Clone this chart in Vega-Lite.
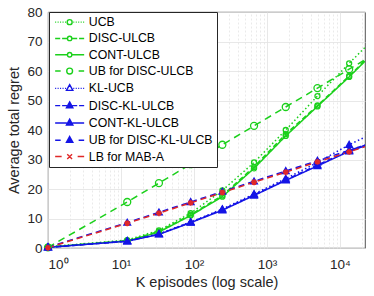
{
  "$schema": "https://vega.github.io/schema/vega-lite/v6.json",
  "width": 317,
  "height": 236,
  "autosize": {"type": "none"},
  "padding": {"left": 48, "top": 12, "right": 9, "bottom": 48},
  "config": {
    "font": "Liberation Sans",
    "view": {"stroke": "#262626", "strokeWidth": 0.8},
    "axis": {"labelFont": "Liberation Sans", "titleFont": "Liberation Sans", "labelColor": "#262626", "titleColor": "#262626", "titleFontWeight": "normal", "domain": false, "ticks": false, "gridColor": "#e2e2e2", "gridWidth": 0.8}
  },
  "datasets": {
    "d": [
      {"series": "UCB", "K": 1, "regret": 0.4}, {"series": "UCB", "K": 12.18, "regret": 2.7}, {"series": "UCB", "K": 33.12, "regret": 6.0}, {"series": "UCB", "K": 90.02, "regret": 11.8}, {"series": "UCB", "K": 244.7, "regret": 19.5}, {"series": "UCB", "K": 665.1, "regret": 29.0}, {"series": "UCB", "K": 1808, "regret": 40.0}, {"series": "UCB", "K": 4915, "regret": 51.5}, {"series": "UCB", "K": 13360, "regret": 62.6}, {"series": "UCB", "K": 22026, "regret": 68.0},
      {"series": "DISC-ULCB", "K": 1, "regret": 0.3}, {"series": "DISC-ULCB", "K": 12.18, "regret": 2.5}, {"series": "DISC-ULCB", "K": 33.12, "regret": 5.6}, {"series": "DISC-ULCB", "K": 90.02, "regret": 11.3}, {"series": "DISC-ULCB", "K": 244.7, "regret": 17.8}, {"series": "DISC-ULCB", "K": 665.1, "regret": 27.5}, {"series": "DISC-ULCB", "K": 1808, "regret": 38.6}, {"series": "DISC-ULCB", "K": 4915, "regret": 48.3}, {"series": "DISC-ULCB", "K": 13360, "regret": 58.3}, {"series": "DISC-ULCB", "K": 22026, "regret": 63.6},
      {"series": "CONT-ULCB", "K": 1, "regret": 0.3}, {"series": "CONT-ULCB", "K": 12.18, "regret": 2.4}, {"series": "CONT-ULCB", "K": 33.12, "regret": 5.4}, {"series": "CONT-ULCB", "K": 90.02, "regret": 11.0}, {"series": "CONT-ULCB", "K": 244.7, "regret": 17.4}, {"series": "CONT-ULCB", "K": 665.1, "regret": 27.0}, {"series": "CONT-ULCB", "K": 1808, "regret": 38.0}, {"series": "CONT-ULCB", "K": 4915, "regret": 48.0}, {"series": "CONT-ULCB", "K": 13360, "regret": 58.0}, {"series": "CONT-ULCB", "K": 22026, "regret": 63.3},
      {"series": "UB for DISC-ULCB", "K": 1, "regret": 0.2}, {"series": "UB for DISC-ULCB", "K": 12.18, "regret": 15.6}, {"series": "UB for DISC-ULCB", "K": 33.12, "regret": 22.0}, {"series": "UB for DISC-ULCB", "K": 90.02, "regret": 28.4}, {"series": "UB for DISC-ULCB", "K": 244.7, "regret": 35.0}, {"series": "UB for DISC-ULCB", "K": 665.1, "regret": 41.4}, {"series": "UB for DISC-ULCB", "K": 1808, "regret": 47.8}, {"series": "UB for DISC-ULCB", "K": 4915, "regret": 54.2}, {"series": "UB for DISC-ULCB", "K": 13360, "regret": 60.6}, {"series": "UB for DISC-ULCB", "K": 22026, "regret": 63.8},
      {"series": "KL-UCB", "K": 1, "regret": 0.3}, {"series": "KL-UCB", "K": 12.18, "regret": 2.4}, {"series": "KL-UCB", "K": 33.12, "regret": 4.8}, {"series": "KL-UCB", "K": 90.02, "regret": 8.8}, {"series": "KL-UCB", "K": 244.7, "regret": 13.2}, {"series": "KL-UCB", "K": 665.1, "regret": 18.3}, {"series": "KL-UCB", "K": 1808, "regret": 23.5}, {"series": "KL-UCB", "K": 4915, "regret": 29.0}, {"series": "KL-UCB", "K": 13360, "regret": 35.0}, {"series": "KL-UCB", "K": 22026, "regret": 37.6},
      {"series": "DISC-KL-ULCB", "K": 1, "regret": 0.2}, {"series": "DISC-KL-ULCB", "K": 12.18, "regret": 2.3}, {"series": "DISC-KL-ULCB", "K": 33.12, "regret": 4.7}, {"series": "DISC-KL-ULCB", "K": 90.02, "regret": 8.7}, {"series": "DISC-KL-ULCB", "K": 244.7, "regret": 13.0}, {"series": "DISC-KL-ULCB", "K": 665.1, "regret": 18.0}, {"series": "DISC-KL-ULCB", "K": 1808, "regret": 23.1}, {"series": "DISC-KL-ULCB", "K": 4915, "regret": 28.1}, {"series": "DISC-KL-ULCB", "K": 13360, "regret": 33.1}, {"series": "DISC-KL-ULCB", "K": 22026, "regret": 34.9},
      {"series": "CONT-KL-ULCB", "K": 1, "regret": 0.2}, {"series": "CONT-KL-ULCB", "K": 12.18, "regret": 2.3}, {"series": "CONT-KL-ULCB", "K": 33.12, "regret": 4.6}, {"series": "CONT-KL-ULCB", "K": 90.02, "regret": 8.6}, {"series": "CONT-KL-ULCB", "K": 244.7, "regret": 12.8}, {"series": "CONT-KL-ULCB", "K": 665.1, "regret": 17.8}, {"series": "CONT-KL-ULCB", "K": 1808, "regret": 22.9}, {"series": "CONT-KL-ULCB", "K": 4915, "regret": 27.8}, {"series": "CONT-KL-ULCB", "K": 13360, "regret": 32.8}, {"series": "CONT-KL-ULCB", "K": 22026, "regret": 34.6},
      {"series": "UB for DISC-KL-ULCB", "K": 1, "regret": 0.3}, {"series": "UB for DISC-KL-ULCB", "K": 12.18, "regret": 8.6}, {"series": "UB for DISC-KL-ULCB", "K": 33.12, "regret": 12.1}, {"series": "UB for DISC-KL-ULCB", "K": 90.02, "regret": 15.6}, {"series": "UB for DISC-KL-ULCB", "K": 244.7, "regret": 19.1}, {"series": "UB for DISC-KL-ULCB", "K": 665.1, "regret": 22.6}, {"series": "UB for DISC-KL-ULCB", "K": 1808, "regret": 26.1}, {"series": "UB for DISC-KL-ULCB", "K": 4915, "regret": 29.6}, {"series": "UB for DISC-KL-ULCB", "K": 13360, "regret": 33.1}, {"series": "UB for DISC-KL-ULCB", "K": 22026, "regret": 34.8},
      {"series": "LB for MAB-A", "K": 1, "regret": 0.1}, {"series": "LB for MAB-A", "K": 12.18, "regret": 8.4}, {"series": "LB for MAB-A", "K": 33.12, "regret": 11.8}, {"series": "LB for MAB-A", "K": 90.02, "regret": 15.3}, {"series": "LB for MAB-A", "K": 244.7, "regret": 18.8}, {"series": "LB for MAB-A", "K": 665.1, "regret": 22.3}, {"series": "LB for MAB-A", "K": 1808, "regret": 25.7}, {"series": "LB for MAB-A", "K": 4915, "regret": 29.2}, {"series": "LB for MAB-A", "K": 13360, "regret": 32.6}, {"series": "LB for MAB-A", "K": 22026, "regret": 34.3}
    ]
  },
  "data": {"name": "d"},
  "encoding": {
    "y": {"field": "regret", "type": "quantitative", "scale": {"domain": [0, 80], "nice": false},
      "axis": {"values": [0, 10, 20, 30, 40, 50, 60, 70, 80], "labelFontSize": 13.5, "labelPadding": 6, "title": "Average total regret", "titleFontSize": 14.5, "titlePadding": 5, "grid": true, "labelOverlap": false}},
    "color": {"field": "series", "type": "nominal",
      "scale": {"domain": ["UCB", "DISC-ULCB", "CONT-ULCB", "UB for DISC-ULCB", "KL-UCB", "DISC-KL-ULCB", "CONT-KL-ULCB", "UB for DISC-KL-ULCB", "LB for MAB-A"],
        "range": ["#1bd01b", "#1bd01b", "#1bd01b", "#1bd01b", "#1414e6", "#1414e6", "#1414e6", "#1414e6", "#e02828"]},
      "legend": {"orient": "none", "legendX": 1, "legendY": 0, "title": null, "labelFont": "Liberation Sans", "labelFontSize": 12.3, "labelColor": "#000000", "strokeColor": "#262626", "fillColor": "#ffffff", "padding": 4, "rowPadding": 3.3, "symbolSize": 64, "symbolOffset": 10.5, "symbolStrokeWidth": 1.4, "labelOffset": 13, "labelLimit": 200}}
  },
  "layer": [
    {
      "mark": {"type": "line", "strokeWidth": 1.5, "clip": true},
      "encoding": {
        "x": {"field": "K", "type": "quantitative", "scale": {"type": "log", "domain": [1, 22026], "nice": false},
          "axis": {"values": [1, 10, 100, 1000, 10000], "labelExpr": "datum.value == 1 ? '10⁰' : datum.value == 10 ? '10¹' : datum.value == 100 ? '10²' : datum.value == 1000 ? '10³' : '10⁴'", "labelFontSize": 13.5, "labelPadding": 9, "title": "K episodes (log scale)", "titleFontSize": 14.5, "titlePadding": 5, "grid": true}},
        "strokeDash": {"field": "series", "type": "nominal",
          "scale": {"domain": ["LB for MAB-A", "UCB", "DISC-ULCB", "CONT-ULCB", "UB for DISC-ULCB", "KL-UCB", "DISC-KL-ULCB", "CONT-KL-ULCB", "UB for DISC-KL-ULCB"],
            "range": [[6, 4], [1.5, 2.5], [5, 3], [1, 0], [7, 5], [1.5, 2.5], [5, 3], [1, 0], [6, 4]]}, "legend": null}
      }
    },
    {
      "transform": [{"filter": "datum.K < 20000 && (datum.series == 'UCB' || datum.series == 'DISC-ULCB' || datum.series == 'CONT-ULCB')"}],
      "mark": {"type": "point", "shape": "circle", "size": 25, "filled": false, "strokeWidth": 1.3, "opacity": 1},
      "encoding": {
        "x": {"field": "K", "type": "quantitative", "scale": {"type": "log", "domain": [1, 22026], "nice": false},
          "axis": {"orient": "top", "values": [2, 3, 4, 5, 6, 7, 8, 9, 20, 30, 40, 50, 60, 70, 80, 90, 200, 300, 400, 500, 600, 700, 800, 900, 2000, 3000, 4000, 5000, 6000, 7000, 8000, 9000, 20000], "grid": true, "gridDash": [2, 2], "gridColor": "#e4e4e4", "labels": false, "ticks": false, "title": null, "domain": false}}
      }
    },
    {
      "transform": [{"filter": "datum.K < 20000 && datum.series == 'UB for DISC-ULCB'"}],
      "mark": {"type": "point", "shape": "circle", "size": 49, "filled": false, "strokeWidth": 1.3, "opacity": 1},
      "encoding": {
        "x": {"field": "K", "type": "quantitative", "axis": null}
      }
    },
    {
      "transform": [{"filter": "datum.K < 20000 && (datum.series == 'KL-UCB' || datum.series == 'DISC-KL-ULCB' || datum.series == 'CONT-KL-ULCB' || datum.series == 'UB for DISC-KL-ULCB')"}],
      "mark": {"type": "point", "shape": "M0,-1L1,0.75L-1,0.75ZM0,-0.45L0.5,0.45L-0.5,0.45ZM0,0L0.15,0.3L-0.15,0.3Z", "size": 45, "filled": false, "strokeWidth": 1.3, "opacity": 1},
      "encoding": {
        "x": {"field": "K", "type": "quantitative", "axis": null}
      }
    },
    {
      "transform": [{"filter": "datum.K < 20000 && datum.series == 'LB for MAB-A'"}],
      "mark": {"type": "point", "shape": "M-1,0H1M0,-1V1M-0.7,-0.7L0.7,0.7M0.7,-0.7L-0.7,0.7", "size": 36, "filled": false, "strokeWidth": 1.6, "opacity": 1},
      "encoding": {
        "x": {"field": "K", "type": "quantitative", "axis": null}
      }
    },
    {
      "transform": [{"filter": "false"}],
      "mark": {"type": "point", "size": 64, "filled": false, "strokeWidth": 1.4, "opacity": 1},
      "encoding": {
        "x": {"field": "K", "type": "quantitative", "axis": null},
        "shape": {"field": "series", "type": "nominal",
          "scale": {"domain": ["UCB", "DISC-ULCB", "CONT-ULCB", "UB for DISC-ULCB", "KL-UCB", "DISC-KL-ULCB", "CONT-KL-ULCB", "UB for DISC-KL-ULCB", "LB for MAB-A"],
            "range": [
              "M-3.625,0H-3.37M-3.01,0H-2.755M-2.39,0H-2.14M-1.78,0H-1.52M-1.16,0H-0.91M0.91,0H1.16M1.52,0H1.78M2.14,0H2.39M2.755,0H3.01M3.37,0H3.625M-0.62,0A0.62,0.62 0 1,0 0.62,0A0.62,0.62 0 1,0 -0.62,0",
              "M-3.625,0H-2.36M-1.885,0H-0.6M0.6,0H1.885M2.36,0H3.625M-0.55,0A0.55,0.55 0 1,0 0.55,0A0.55,0.55 0 1,0 -0.55,0",
              "M-3.625,0H-0.6M0.6,0H3.625M-0.55,0A0.55,0.55 0 1,0 0.55,0A0.55,0.55 0 1,0 -0.55,0",
              "M-3.625,0H-2.25M2.25,0H3.625M-0.73,0A0.73,0.73 0 1,0 0.73,0A0.73,0.73 0 1,0 -0.73,0",
              "M-3.625,0H-3.37M-3.01,0H-2.755M-2.39,0H-2.14M-1.78,0H-1.52M-1.16,0H-0.91M0.91,0H1.16M1.52,0H1.78M2.14,0H2.39M2.755,0H3.01M3.37,0H3.625M0,-0.94L0.8,0.51L-0.8,0.51Z",
              "M-3.625,0H-2.36M-1.885,0H-0.7M0.7,0H1.885M2.36,0H3.625M0,-0.94L0.8,0.51L-0.8,0.51ZM0,-0.4L0.35,0.25L-0.35,0.25Z",
              "M-3.625,0H-0.7M0.7,0H3.625M0,-0.94L0.8,0.51L-0.8,0.51ZM0,-0.4L0.35,0.25L-0.35,0.25Z",
              "M-3.625,0H-2.25M2.25,0H3.625M0,-0.94L0.8,0.51L-0.8,0.51ZM0,-0.4L0.35,0.25L-0.35,0.25Z",
              "M-3.625,0H-2.0M2.0,0H3.625M-0.6,-0.6L0.6,0.6M0.6,-0.6L-0.6,0.6"
            ]},
          "legend": {"orient": "none", "legendX": 1, "legendY": 0, "title": null, "labelFont": "Liberation Sans", "labelFontSize": 12.3, "labelColor": "#000000", "strokeColor": "#262626", "fillColor": "#ffffff", "padding": 4, "rowPadding": 3.3, "symbolSize": 64, "symbolOffset": 10.5, "symbolStrokeWidth": 1.4, "labelOffset": 13, "labelLimit": 200}}
      }
    }
  ],
  "resolve": {"axis": {"x": "independent"}}
}
